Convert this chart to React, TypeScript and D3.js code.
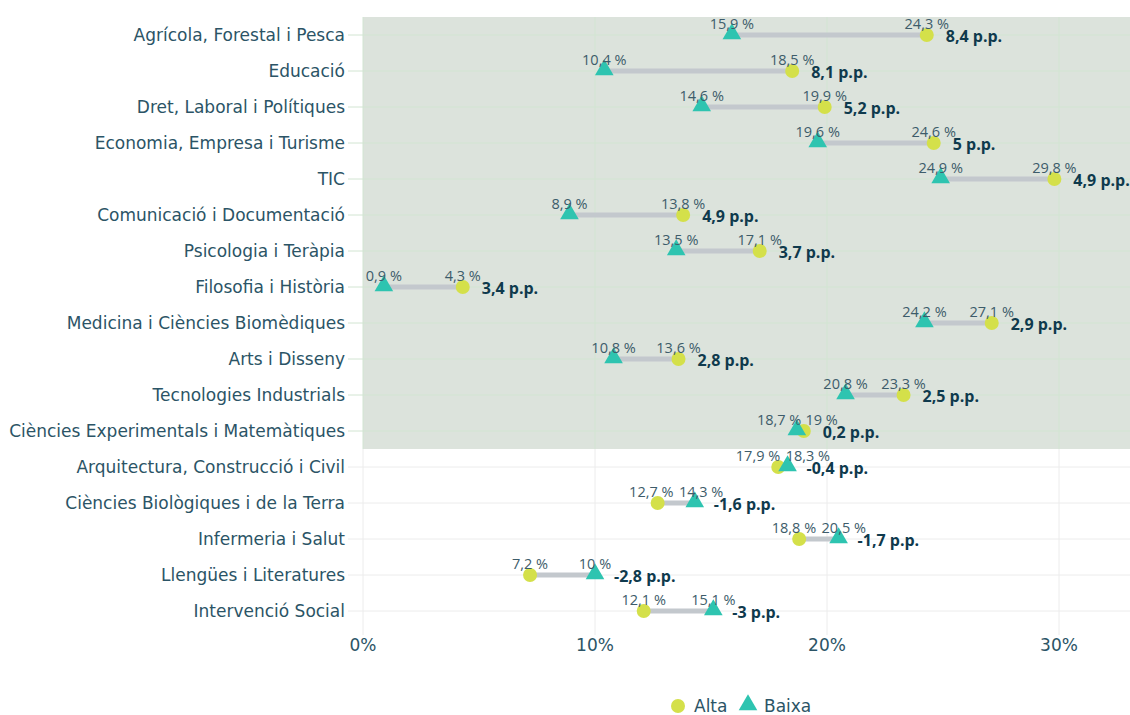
import React from 'react';
import * as d3 from 'd3';

const categories = [
  'Agrícola, Forestal i Pesca',
  'Educació',
  'Dret, Laboral i Polítiques',
  'Economia, Empresa i Turisme',
  'TIC',
  'Comunicació i Documentació',
  'Psicologia i Teràpia',
  'Filosofia i Història',
  'Medicina i Ciències Biomèdiques',
  'Arts i Disseny',
  'Tecnologies Industrials',
  'Ciències Experimentals i Matemàtiques',
  'Arquitectura, Construcció i Civil',
  'Ciències Biològiques i de la Terra',
  'Infermeria i Salut',
  'Llengües i Literatures',
  'Intervenció Social',
];
const alta = [24.3, 18.5, 19.9, 24.6, 29.8, 13.8, 17.1, 4.3, 27.1, 13.6, 23.3, 19, 17.9, 12.7, 18.8, 7.2, 12.1];
const baixa = [15.9, 10.4, 14.6, 19.6, 24.9, 8.9, 13.5, 0.9, 24.2, 10.8, 20.8, 18.7, 18.3, 14.3, 20.5, 10, 15.1];
const diffs = [8.4, 8.1, 5.2, 5, 4.9, 4.9, 3.7, 3.4, 2.9, 2.8, 2.5, 0.2, -0.4, -1.6, -1.7, -2.8, -3];
const xTicks = [0, 10, 20, 30];

const W = 1130, H = 715;
const margin = { top: 17, right: 0, bottom: 86, left: 363 };
const FONT = '"Open Sans", sans-serif';
const WIDE = '"DejaVu Sans", sans-serif';
const TEXT = '#2b5466';
const DARK = '#0f3a4d';
const ALTA = '#d4e04a';
const BAIXA = '#2ec4b0';

const fmt = (v: number) => String(v).replace('.', ',');
// rough width of a value label at 14.5px
const labelW = (s: string) => s.length * 7.3;

export default function App() {
  const x = d3.scaleLinear().domain([0, 33.06]).range([margin.left, W - margin.right]);
  const y = d3.scaleBand<string>().domain(categories).range([margin.top, H - margin.bottom]).padding(0);
  const cy = (c: string) => (y(c) as number) + y.bandwidth() / 2;
  const tri = d3.symbol().type(d3.symbolTriangle).size(150)() as string;
  const positiveCount = diffs.filter(d => d > 0).length;
  const shadeBottom = (y(categories[positiveCount - 1]) as number) + y.bandwidth();
  const plotBottom = H - margin.bottom;

  // push value labels apart when markers are close
  const labelPos = (i: number) => {
    const la = fmt(alta[i]) + ' %', lb = fmt(baixa[i]) + ' %';
    let xa = x(alta[i]), xb = x(baixa[i]);
    const need = (labelW(la) + labelW(lb)) / 2 + 6;
    if (Math.abs(xa - xb) < need) {
      const mid = (xa + xb) / 2;
      const sign = xa >= xb ? 1 : -1;
      xa = mid + sign * need / 2;
      xb = mid - sign * need / 2;
    }
    return { la, lb, xa, xb };
  };

  return (
    <svg width={W} height={H} style={{ position: 'absolute', left: 0, top: 0, fontFamily: FONT }}>
      <rect x={x(0)} y={margin.top} width={W - margin.right - x(0)} height={shadeBottom - margin.top} fill="#dce3dc" />
      {/* horizontal grid */}
      {categories.map((c, i) => (
        <line key={'h' + c} x1={margin.left - 15} x2={W - margin.right} y1={cy(c)} y2={cy(c)}
          stroke={i < positiveCount ? '#d2e5d2' : '#ececec'} strokeWidth={1} />
      ))}
      {/* vertical grid */}
      {xTicks.map(t => (
        <g key={'v' + t}>
          <line x1={x(t)} x2={x(t)} y1={margin.top} y2={shadeBottom} stroke="#d2e5d2" />
          <line x1={x(t)} x2={x(t)} y1={shadeBottom} y2={plotBottom + 6} stroke="#ececec" />
          <text x={x(t)} y={plotBottom + 22} textAnchor="middle" fontFamily={WIDE} fontSize={17} fill={TEXT}>{t}%</text>
        </g>
      ))}
      {categories.map(c => (
        <text key={'l' + c} x={margin.left - 18} y={cy(c)} dy="0.35em" textAnchor="end" fontFamily={WIDE} fontSize={17} fill={TEXT}>{c}</text>
      ))}
      {categories.map((c, i) => {
        const a = alta[i], b = baixa[i];
        const yy = cy(c);
        return (
          <line key={'s' + c} x1={x(Math.min(a, b))} x2={x(Math.max(a, b))} y1={yy} y2={yy} stroke="#c3c8cd" strokeWidth={5} />
        );
      })}
      {categories.map((c, i) => {
        const a = alta[i], b = baixa[i];
        const yy = cy(c);
        const p = labelPos(i);
        return (
          <g key={'p' + c}>
            <circle cx={x(a)} cy={yy} r={7} fill={ALTA} />
            <path d={tri} transform={`translate(${x(b)},${yy - 1})`} fill={BAIXA} />
            <text x={p.xb} y={yy - 6} textAnchor="middle" fontSize={14.5} fill="#3d5c6a">{p.lb}</text>
            <text x={p.xa} y={yy - 6} textAnchor="middle" fontSize={14.5} fill="#3d5c6a">{p.la}</text>
            <text x={x(Math.max(a, b)) + 19} y={yy + 7} fontSize={16} fontWeight="bold" fill={DARK}>{fmt(diffs[i])} p.p.</text>
          </g>
        );
      })}
      {/* legend */}
      <g transform={`translate(678,706)`}>
        <circle cx={0} cy={0} r={7} fill={ALTA} />
        <text x={16} y={0} dy="0.35em" fontFamily={WIDE} fontSize={17} fill={TEXT}>Alta</text>
        <path d={tri} transform="translate(70,-1)" fill={BAIXA} />
        <text x={86} y={0} dy="0.35em" fontFamily={WIDE} fontSize={17} fill={TEXT}>Baixa</text>
      </g>
    </svg>
  );
}
